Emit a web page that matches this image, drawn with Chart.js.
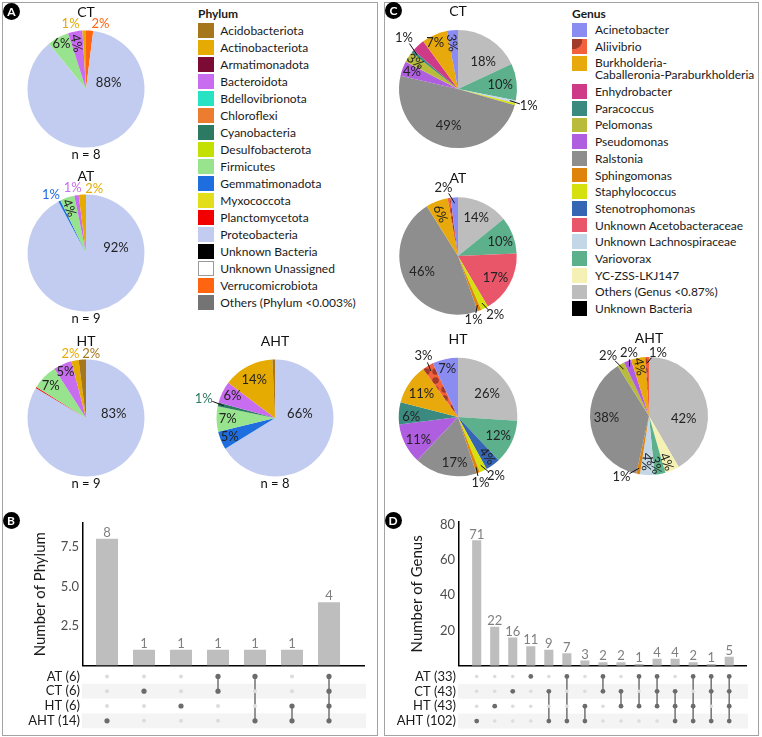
<!DOCTYPE html>
<html><head><meta charset="utf-8">
<script src="https://cdn.jsdelivr.net/npm/chart.js@4.4.1/dist/chart.umd.min.js"></script>
<style>
html,body{margin:0;padding:0;background:#fff}
#root{position:relative;width:762px;height:737px;overflow:hidden;font-family:Lato,'Open Sans',sans-serif}
.panel{position:absolute;border:1px solid #a3a3a3;box-sizing:border-box}
canvas{position:absolute}
.badge{position:absolute;width:17px;height:17px;border-radius:50%;background:#000;color:#fff;font:bold 12px Lato,sans-serif;text-align:center;line-height:17px}
.legend{position:absolute;font-size:12px;color:#1a1a1a;white-space:nowrap}
.legend .ttl{font-weight:bold;height:17px;line-height:17px}
.legend .row{display:flex;align-items:center}
.legend .sw{flex:none;box-sizing:border-box}
</style></head><body><div id="root">
<div class="panel" style="left:2px;top:2px;width:376px;height:734px"></div>
<div class="panel" style="left:384px;top:2px;width:375px;height:734px"></div>
<div id="legA" class="legend" style="left:198px;top:4.5px"></div>
<div id="legC" class="legend" style="left:572px;top:4.5px"></div>
</div>
<script>
// ---------------- DATA ----------------
const phylumNames = ['Acidobacteriota','Actinobacteriota','Armatimonadota','Bacteroidota','Bdellovibrionota','Chloroflexi','Cyanobacteria','Desulfobacterota','Firmicutes','Gemmatimonadota','Myxococcota','Planctomycetota','Proteobacteria','Unknown Bacteria','Unknown Unassigned','Verrucomicrobiota','Others (Phylum <0.003%)'];
const phylumColors = ['#a6761d','#e6ab02','#7b0a34','#c86df0','#27e3c3','#ec7d30','#2d7a62','#c4e000','#98e38e','#1f6ee0','#e3de1a','#f20000','#c2ccf0','#000000','#ffffff','#ff6410','#747474'];

const genusNames = ['Acinetobacter','Aliivibrio','Burkholderia-Caballeronia-Paraburkholderia','Enhydrobacter','Paracoccus','Pelomonas','Pseudomonas','Ralstonia','Sphingomonas','Staphylococcus','Stenotrophomonas','Unknown Acetobacteraceae','Unknown Lachnospiraceae','Variovorax','YC-ZSS-LKJ147','Others (Genus <0.87%)','Unknown Bacteria'];
const genusColors = ['#8b8cf2','PATTERN','#e8a90c','#cf3a88','#3a8a80','#b8bc3a','#b05ee0','#8e8e8e','#de830c','#d5e00c','#3565b3','#e9566a','#c3d7e6','#5cb08c','#f5f0b3','#bdbdbd','#000000'];

// Panel A pies (slices clockwise from 12 o'clock), values in %
const phylumCT_cats = ['Verrucomicrobiota','Proteobacteria','Firmicutes','Bacteroidota','Actinobacteriota'];
const phylumCT_vals = [2, 88, 6, 4, 1];
const phylumAT_cats = ['Proteobacteria','Gemmatimonadota','Firmicutes','Bacteroidota','Actinobacteriota'];
const phylumAT_vals = [92, 0.6, 4, 1.2, 2];
const phylumHT_cats = ['Proteobacteria','Planctomycetota','Firmicutes','Bacteroidota','Actinobacteriota','Acidobacteriota'];
const phylumHT_vals = [83, 0.3, 7, 5, 2, 2];
const phylumAHT_cats = ['Proteobacteria','Gemmatimonadota','Firmicutes','Cyanobacteria','Bacteroidota','Actinobacteriota','Acidobacteriota'];
const phylumAHT_vals = [66, 5, 7, 1, 6, 14, 0.7];

// Panel C pies
const genusCT_cats = ['Others (Genus <0.87%)','Variovorax','Unknown Lachnospiraceae','Staphylococcus','Ralstonia','Pseudomonas','Pelomonas','Paracoccus','Enhydrobacter','Burkholderia-Caballeronia-Paraburkholderia','Acinetobacter'];
const genusCT_vals = [18, 10, 0.8, 0.5, 49, 4, 3, 0.8, 3.5, 7, 3];
const genusAT_cats = ['Others (Genus <0.87%)','Variovorax','Unknown Acetobacteraceae','Staphylococcus','Sphingomonas','Ralstonia','Burkholderia-Caballeronia-Paraburkholderia','Aliivibrio','Acinetobacter'];
const genusAT_vals = [14, 10, 17, 2, 1, 46, 6, 0.8, 2];
const genusHT_cats = ['Others (Genus <0.87%)','Variovorax','Stenotrophomonas','Staphylococcus','Sphingomonas','Ralstonia','Pseudomonas','Paracoccus','Burkholderia-Caballeronia-Paraburkholderia','Aliivibrio','Acinetobacter'];
const genusHT_vals = [26, 12, 4, 2, 1, 17, 11, 6, 11, 3, 7];
const genusAHT_cats = ['Others (Genus <0.87%)','YC-ZSS-LKJ147','Variovorax','Unknown Lachnospiraceae','Sphingomonas','Ralstonia','Pelomonas','Pseudomonas','Burkholderia-Caballeronia-Paraburkholderia','Aliivibrio'];
const genusAHT_vals = [42, 4, 3, 4, 1, 38, 2, 2, 4, 1];

// UpSet data
const setNames = ['AT','CT','HT','AHT'];
const phylumSetSizes = [6, 6, 6, 14];
const phylumCounts = [8, 1, 1, 1, 1, 1, 4];
const phylumMembers = [['AHT'],['CT'],['HT'],['AT','CT'],['AT','AHT'],['HT','AHT'],['AT','CT','HT','AHT']];
const phylumTicks = [2.5, 5.0, 7.5];
const genusSetSizes = [33, 43, 43, 102];
const genusCounts = [71, 22, 16, 11, 9, 7, 3, 2, 2, 1, 4, 4, 2, 1, 5];
const genusMembers = [['AHT'],['HT'],['CT'],['AT'],['CT','AHT'],['AT','AHT'],['HT','AHT'],['AT','CT'],['CT','HT'],['AT','HT'],['AT','CT','HT'],['CT','HT','AHT'],['AT','HT','AHT'],['AT','CT','AHT'],['AT','CT','HT','AHT']];
const genusTicks = [20, 40, 60, 80];

// ---------------- LABEL LAYOUT (radius factor, angle shift deg, rotation deg, leader) ----------------
const layA_CT = [[1.14,9,0,0],[0.4,-89,0,0],[0.875,0,0,0],[0.8,-1,78,0],[1.14,-11.6,0,0]];
const layA_AT = [[0.52,-85.5,0,0],[1.16,-4,0,0],[0.82,-1.8,68,0],[1.13,-2.2,0,0],[1.11,10.9,0,0]];
const layA_HT = [[0.48,-69.7,0,0],null,[0.82,-2,0,0],[0.86,-0.5,0,0],[1.13,-2.7,0,0],[1.1,8.2,0,0]];
const layA_AHT = [[0.43,-38.3,0,0],[0.84,0,0,0],[0.81,0,0,0],[1.26,1.4,0,1],[0.82,1.4,0,0],[0.74,-0.8,0,0],null];
const layC_CT = [[0.63,10.3,0,0],[0.72,1,0,0],[1.23,0.7,0,1],null,[0.64,0,0,0],[0.83,0,0,0],[0.86,0,35,0],[1.26,3.5,0,1],null,[0.87,-2.8,0,0],[0.79,-2,83,0]];
const layC_AT = [[0.72,0,0,0],[0.76,2,0,0],[0.74,2,0,0],[1.18,-5.5,0,1],[1.12,7.8,0,1],[0.67,1.7,0,0],[0.78,-1.6,67,0],null,[1.19,-8.4,0,1]];
const layC_HT = [[0.63,4.4,0,0],[0.75,0,0,0],[0.82,-0.8,54,0],[1.18,-7.7,0,1],[1.17,1,0,1],[0.78,-8.4,0,0],[0.77,-3,0,0],[0.79,-3.6,0,0],[0.73,-1.8,0,0],[1.18,1,0,1],[0.83,0,0,0]];
const layC_AHT = [[0.59,20.6,0,0],[0.83,2.4,69,0],[0.84,2.9,82,0],[0.78,1.5,93,0],[1.13,13.8,0,1],[0.72,8,0,0],[1.23,-5.8,0,1],[1.13,3.9,0,1],[0.85,0,79,0],[1.08,9.9,0,1]];

// ---------------- HELPERS ----------------
Chart.defaults.font.family = 'Lato';
const root = document.getElementById('root');
function mk(left, top, w, h){
  const c = document.createElement('canvas');
  c.width = w; c.height = h; c.style.left = left+'px'; c.style.top = top+'px';
  c.style.width = w+'px'; c.style.height = h+'px';
  root.appendChild(c); return c;
}
function aliiPattern(){
  const c = document.createElement('canvas'); c.width = 9; c.height = 9;
  const g = c.getContext('2d'); g.fillStyle = '#f2603c'; g.fillRect(0,0,9,9);
  g.fillStyle = '#a23a2c'; g.beginPath(); g.arc(4.5,4.5,3.2,0,2*Math.PI); g.fill();
  return g.createPattern(c,'repeat');
}
const alii = aliiPattern();
const phylumColor = n => phylumColors[phylumNames.indexOf(n)];
const genusColor = n => { const c = genusColors[genusNames.indexOf(n)]; return c === 'PATTERN' ? alii : c; };

const pieTextPlugin = {id:'pieText', afterDatasetsDraw(chart, args, o){
  const ctx = chart.ctx, meta = chart.getDatasetMeta(0), vals = chart.data.datasets[0].data;
  const a0 = meta.data[0], cx = a0.x, cy = a0.y, r = a0.outerRadius;
  ctx.save(); ctx.textAlign = 'center'; ctx.textBaseline = 'middle';
  ctx.fillStyle = '#111'; ctx.font = '14px Lato';
  ctx.fillText(o.title, cx, cy - r - 18.5);
  if (o.foot){ ctx.font = '13px Lato'; ctx.fillText(o.foot, cx, cy + r + 7); }
  meta.data.forEach((arc, i) => {
    const L = o.layout[i]; if (!L) return;
    const mid = (arc.startAngle + arc.endAngle) / 2;
    const ang = mid + L[1] * Math.PI / 180;
    const x = cx + Math.cos(ang) * r * L[0], y = cy + Math.sin(ang) * r * L[0];
    if (L[3]){
      const ex = cx + Math.cos(mid) * r * 0.9, ey = cy + Math.sin(mid) * r * 0.9;
      const dx = ex - x, dy = ey - y, d = Math.hypot(dx, dy);
      ctx.strokeStyle = '#111'; ctx.lineWidth = 1;
      ctx.beginPath(); ctx.moveTo(x + dx/d*9, y + dy/d*7); ctx.lineTo(ex, ey); ctx.stroke();
    }
    ctx.font = '13px Lato';
    ctx.fillStyle = (o.colorOutside && L[0] > 1) ? o.colorOf(chart.data.labels[i]) : '#222';
    ctx.save(); ctx.translate(x, y); ctx.rotate(L[2] * Math.PI / 180);
    ctx.fillText(Math.round(vals[i]) + '%', 0, 0); ctx.restore();
  });
  ctx.restore();
}};

function pie(cx, cy, r, title, foot, cats, vals, colorOf, layout, colorOutside){
  const W = 180, H = 180, ox = 90, oy = 95;
  const cv = mk(cx - ox, cy - oy, W, H);
  new Chart(cv, {
    type: 'pie',
    data: {labels: cats, datasets: [{data: vals, backgroundColor: cats.map(colorOf), borderWidth: 0, hoverOffset: 0, offset: 0}]},
    options: {responsive: false, animation: false, events: [],
      layout: {padding: {left: ox - r, right: W - ox - r, top: oy - r, bottom: H - oy - r}},
      plugins: {legend: {display: false}, tooltip: {enabled: false},
        pieText: {title, foot, layout, colorOutside, colorOf}}},
    plugins: [pieTextPlugin]
  });
}

const barLabelPlugin = {id:'barLbl', afterDatasetsDraw(chart){
  const ctx = chart.ctx, meta = chart.getDatasetMeta(0), ds = chart.data.datasets[0].data;
  ctx.save(); ctx.font = '13px Lato'; ctx.fillStyle = '#7f7f7f'; ctx.textAlign = 'center'; ctx.textBaseline = 'bottom';
  meta.data.forEach((b, i) => ctx.fillText(String(ds[i].y), b.x, b.y + 0.5));
  ctx.restore();
}};

function upsetBars(cv, counts, xmin, xmax, ymax, ticks, fmt, title, pad, yW, barPct){
  new Chart(cv, {
    type: 'bar',
    data: {datasets: [{data: counts.map((v, i) => ({x: i, y: v})), backgroundColor: '#bebebe', borderWidth: 0,
      categoryPercentage: 1, barPercentage: barPct}]},
    options: {responsive: false, animation: false, events: [], layout: {padding: pad},
      plugins: {legend: {display: false}, tooltip: {enabled: false}},
      scales: {
        x: {type: 'linear', min: xmin, max: xmax, offset: false, bounds: 'data', grid: {display: false, drawTicks: false, offset: false}, ticks: {display: false},
            border: {display: true, color: '#000', width: 1.5},
            afterFit: s => { s.height = 0; s.paddingLeft = 0; s.paddingRight = 0; }},
        y: {min: 0, max: ymax, bounds: 'data', grid: {display: false, drawTicks: false},
            border: {display: true, color: '#000', width: 1.5},
            afterBuildTicks: s => { s.ticks = ticks.map(v => ({value: v})); },
            ticks: {font: {size: 13}, color: '#4d4d4d', padding: 4, callback: v => fmt(v)},
            title: {display: true, text: title, font: {size: 15}, color: '#1a1a1a', padding: {top: 4, bottom: 4}},
            afterFit: s => { s.width = yW; s.paddingTop = 0; s.paddingBottom = 0; }}
      }},
    plugins: [barLabelPlugin]
  });
}

const bandPlugin = {id:'bands', beforeDatasetsDraw(chart){
  const {ctx, chartArea: a, scales: {y}} = chart;
  const n = y.getLabels().length, h = (a.bottom - a.top) / n;
  ctx.save(); ctx.fillStyle = '#f4f4f4';
  for (let i = 1; i < n; i += 2){ const yc = y.getPixelForValue(i); ctx.fillRect(a.left - 1, yc - h/2, a.right - a.left + 3, h); }
  ctx.restore();
}};

function upsetMatrix(cv, sizes, members, xmin, xmax, pad, yW, rPres, rAbs){
  const rows = setNames.map((n, i) => n + ' (' + sizes[i] + ')');
  const absent = [];
  members.forEach((m, c) => setNames.forEach((n, r) => { if (!m.includes(n)) absent.push({x: c, y: rows[r]}); }));
  const datasets = [{data: absent, pointRadius: rAbs, pointBackgroundColor: '#dcdcdc', pointBorderWidth: 0, showLine: false}];
  members.forEach((m, c) => datasets.push({
    data: setNames.map((n, r) => m.includes(n) ? {x: c, y: rows[r]} : null).filter(Boolean),
    showLine: true, borderColor: '#7a7a7a', borderWidth: 1.6, pointRadius: rPres,
    pointBackgroundColor: '#6b6b6b', pointBorderWidth: 0}));
  new Chart(cv, {
    type: 'scatter', data: {datasets},
    options: {responsive: false, animation: false, events: [], layout: {padding: pad},
      plugins: {legend: {display: false}, tooltip: {enabled: false}},
      scales: {
        x: {type: 'linear', min: xmin, max: xmax, display: false, offset: false, bounds: 'data'},
        y: {type: 'category', labels: rows, offset: true, grid: {display: false, drawTicks: false}, border: {display: false},
            ticks: {font: {size: 13}, color: '#1a1a1a', padding: 3, autoSkip: false},
            afterFit: s => { s.width = yW; s.paddingTop = 0; s.paddingBottom = 0; }}
      }},
    plugins: [bandPlugin]
  });
}

// ---------------- LEGENDS ----------------
function legend(el, title, names, colors, rowH, swW, swH, gap){
  let html = '<div class="ttl">' + title + '</div>';
  names.forEach((n, i) => {
    let bg = colors[i];
    if (bg === 'PATTERN') bg = 'radial-gradient(circle at 1px 1px, #a23a2c 9px, #f2603c 9.6px)';
    const border = bg === '#ffffff' ? 'border:1px solid #9a9a9a;' : '';
    const multi = n.indexOf('Burkholderia-') === 0;
    const label = multi ? n.replace('Burkholderia-', 'Burkholderia-<br>') : n;
    if (multi){
      html += '<div class="row" style="height:' + (rowH + 11.7) + 'px;align-items:flex-start"><span class="sw" style="width:' + swW + 'px;height:' + swH + 'px;margin-top:' + ((rowH - swH)/2) + 'px;background:' + bg + ';' + border + '"></span><span style="margin-left:' + gap + 'px;line-height:11.7px;padding-top:' + ((rowH - 11.7)/2) + 'px">' + label + '</span></div>';
    } else {
      html += '<div class="row" style="height:' + rowH + 'px"><span class="sw" style="width:' + swW + 'px;height:' + swH + 'px;background:' + bg + ';' + border + '"></span><span style="margin-left:' + gap + 'px">' + label + '</span></div>';
    }
  });
  document.getElementById(el).innerHTML = html;
}
legend('legA', 'Phylum', phylumNames, phylumColors, 17.06, 15.6, 15, 6.7);
legend('legC', 'Genus', genusNames, genusColors, 16.7, 15, 14.7, 8);

// ---------------- PIES ----------------
pie(85.5, 89, 58.5, 'CT', 'n = 8', phylumCT_cats, phylumCT_vals, phylumColor, layA_CT, true);
pie(85.5, 253, 58.5, 'AT', 'n = 9', phylumAT_cats, phylumAT_vals, phylumColor, layA_AT, true);
pie(85.5, 417.5, 58.5, 'HT', 'n = 9', phylumHT_cats, phylumHT_vals, phylumColor, layA_HT, true);
pie(274.5, 418, 58.5, 'AHT', 'n = 8', phylumAHT_cats, phylumAHT_vals, phylumColor, layA_AHT, true);

pie(457.7, 89.3, 59, 'CT', '', genusCT_cats, genusCT_vals, genusColor, layC_CT, false);
pie(457.7, 255.5, 58.7, 'AT', '', genusAT_cats, genusAT_vals, genusColor, layC_AT, false);
pie(457.7, 417.3, 59.3, 'HT', '', genusHT_cats, genusHT_vals, genusColor, layC_HT, false);
pie(649.3, 416, 59, 'AHT', '', genusAHT_cats, genusAHT_vals, genusColor, layC_AHT, false);

// ---------------- UPSET ----------------
upsetBars(mk(0, 515, 378, 155), phylumCounts, -0.649, 6.946, 9, phylumTicks, v => v.toFixed(1), 'Number of Phylum',
  {left: 27.6, right: 14, top: 8, bottom: 4.5}, 55.4, 0.595);
upsetMatrix(mk(0, 665, 378, 70), phylumSetSizes, phylumMembers, -0.649, 6.946, {left: 0, right: 14, top: 2.4, bottom: 6.8}, 83, 2.6, 2);

upsetBars(mk(384, 515, 374, 155), genusCounts, -0.98, 14.93, 81.4, genusTicks, v => String(v), 'Number of Genus',
  {left: 20.3, right: 12, top: 7, bottom: 4.3}, 54.7, 0.554);
upsetMatrix(mk(384, 665, 374, 70), genusSetSizes, genusMembers, -0.98, 14.93, {left: 0, right: 12, top: 2.3, bottom: 6.5}, 75, 2.4, 1.8);

// ---------------- BADGES ----------------
[['A', 11.5, 11], ['B', 11, 520], ['C', 393.5, 10.5], ['D', 393, 520]].forEach(([t, x, y]) => {
  const d = document.createElement('div'); d.className = 'badge'; d.textContent = t;
  d.style.left = (x - 8.5) + 'px'; d.style.top = (y - 8.5) + 'px'; root.appendChild(d);
});
</script></body></html>
